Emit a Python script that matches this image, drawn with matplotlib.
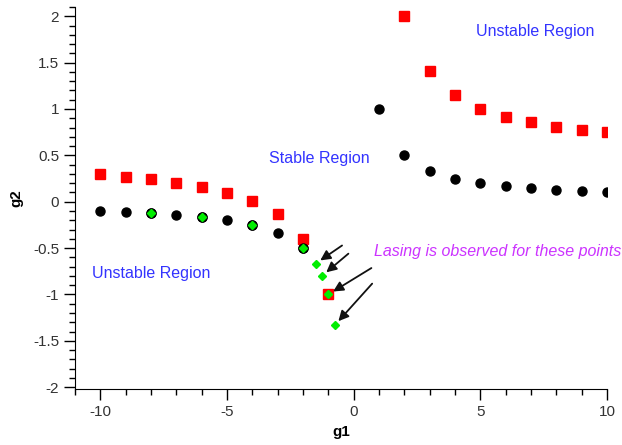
import matplotlib
matplotlib.use('Agg')
import matplotlib.pyplot as plt
from matplotlib.ticker import MultipleLocator

plt.rcParams['font.family'] = ['Liberation Sans', 'DejaVu Sans']

# black circles: g2 = 1/g1 boundary
black_x = [-10, -9, -8, -7, -6, -5, -4, -3, -2, 1, 2, 3, 4, 5, 6, 7, 8, 9, 10]
black_y = [-0.1, -0.111, -0.125, -0.143, -0.167, -0.2, -0.25, -0.333, -0.5,
           1.0, 0.5, 0.333, 0.25, 0.2, 0.167, 0.143, 0.125, 0.111, 0.1]

# red squares
red_x = [-10, -9, -8, -7, -6, -5, -4, -3, -2, -1, 2, 3, 4, 5, 6, 7, 8, 9, 10]
red_y = [0.3, 0.27, 0.24, 0.2, 0.155, 0.09, 0.01, -0.13, -0.4, -1.0,
         2.0, 1.41, 1.15, 1.0, 0.91, 0.86, 0.81, 0.77, 0.75]

# green circles on top of black points
green_x = [-8, -6, -4, -2]
green_y = [-0.125, -0.167, -0.25, -0.5]

# lasing points (green diamonds)
lase_x = [-1.5, -1.25, -1.0, -0.75]
lase_y = [-0.667, -0.8, -1.0, -1.333]
arrow_off = [(19, 13), (19, 16), (31, 19), (27, 30)]  # offsets in points

fig = plt.figure(figsize=(6.22, 4.45), dpi=100)
ax = fig.add_axes([75/622, 56/445, 532/622, 382/445])

ax.plot(black_x, black_y, 'o', color='black', markersize=6.5, zorder=3)
ax.plot(red_x, red_y, 's', color='#ff0000', markersize=7, zorder=3)
ax.plot(green_x, green_y, 'o', color='black', markersize=6.5, zorder=4)
ax.plot(green_x, green_y, 'D', color='#00ee00', markersize=4, zorder=5)
ax.plot(lase_x, lase_y, 'D', color='#00ee00', markersize=4.5, zorder=5)

for x, y, off in zip(lase_x, lase_y, arrow_off):
    ax.annotate('', xy=(x, y), xytext=off, textcoords='offset points',
                arrowprops=dict(arrowstyle='-|>', color='#111111', lw=1.3,
                                mutation_scale=15, shrinkA=0, shrinkB=4))

ax.text(7.17, 1.84, 'Unstable Region', color='#3333ff', fontsize=11.5,
        ha='center', va='center')
ax.text(-1.34, 0.47, 'Stable Region', color='#3333ff', fontsize=11.5,
        ha='center', va='center')
ax.text(-8.0, -0.77, 'Unstable Region', color='#3333ff', fontsize=11.5,
        ha='center', va='center')
ax.text(5.7, -0.54, 'Lasing is observed for these points', color='#cc33ff',
        fontsize=11.5, style='italic', ha='center', va='center')

ax.set_xlim(-11, 10)
ax.set_ylim(-2.02, 2.1)
ax.xaxis.set_major_locator(MultipleLocator(5))
ax.xaxis.set_minor_locator(MultipleLocator(1))
ax.yaxis.set_major_locator(MultipleLocator(0.5))
ax.yaxis.set_minor_locator(MultipleLocator(0.1))
ax.tick_params(which='major', length=8, width=1, direction='out',
               labelsize=11, labelcolor='#333333')
ax.tick_params(which='minor', length=4, width=1, direction='out')
ax.set_yticks([-2, -1.5, -1, -0.5, 0, 0.5, 1, 1.5, 2])
ax.set_yticklabels(['-2', '-1.5', '-1', '-0.5', '0', '0.5', '1', '1.5', '2'])
ax.set_xticks([-10, -5, 0, 5, 10])
ax.set_xticklabels(['-10', '-5', '0', '5', '10'])
ax.spines['top'].set_visible(False)
ax.spines['right'].set_visible(False)
ax.set_xlabel('g1', fontsize=11, fontweight='bold', labelpad=4)
ax.set_ylabel('g2', fontsize=11, fontweight='bold', labelpad=7)

fig.savefig('out.png', dpi=100)
